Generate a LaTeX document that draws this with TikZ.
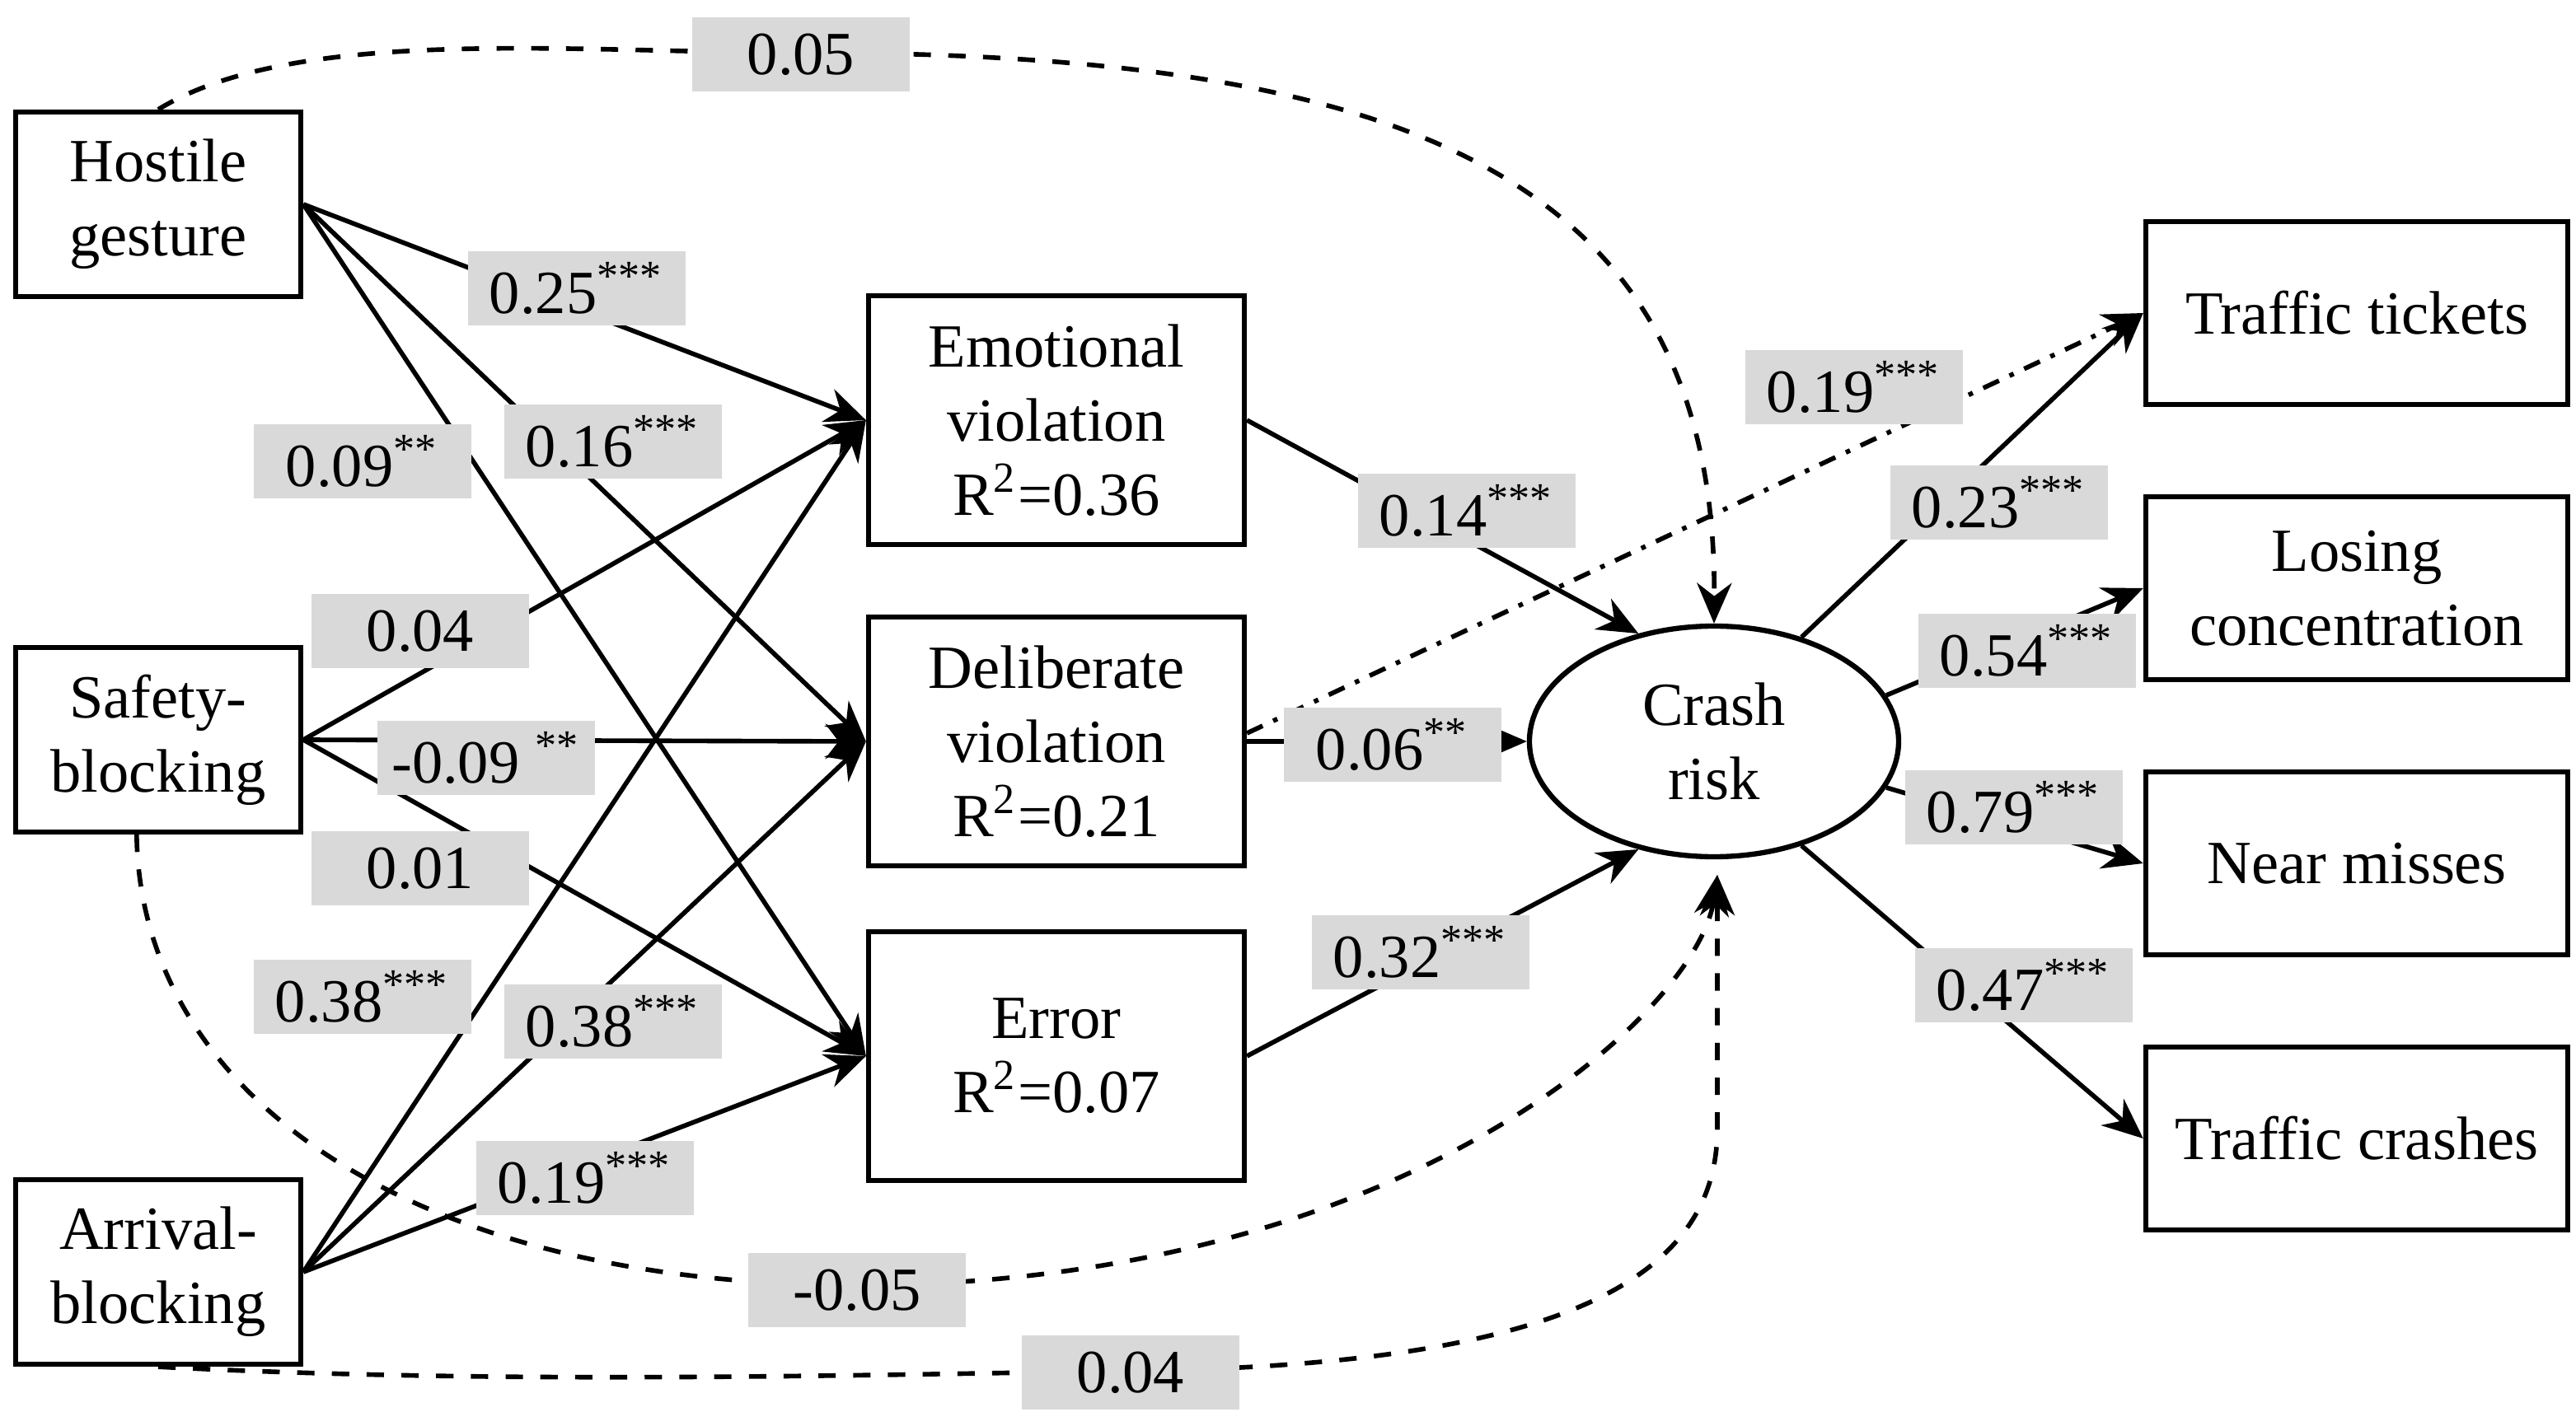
\documentclass[tikz,border=0pt]{standalone}
\usepackage{fontspec}
\setmainfont{Liberation Serif}
\usetikzlibrary{arrows.meta,shapes.geometric}
\begin{document}
\begin{tikzpicture}[>={Stealth[length=7pt,width=6pt]}, line width=0.8pt,
  font=\fontsize{10.6}{12.8}\selectfont]
    \tikzstyle{block} = [draw, rectangle, align=center, line width=0.9pt]
    \tikzstyle{lbl} = [fill=black!15, minimum width=1.32cm, minimum height=0.45cm, inner sep=0pt]
    \useasboundingbox (0,0) rectangle (15.63,8.65);

    \node [block, minimum width=1.73cm, minimum height=1.12cm] (hostile) at (0.96,7.41) {Hostile\\gesture};
    \node [block, minimum width=1.73cm, minimum height=1.12cm] (safety) at (0.96,4.16) {Safety-\\blocking};
    \node [block, minimum width=1.73cm, minimum height=1.12cm] (arrival) at (0.96,0.93) {Arrival-\\blocking};

    \node [block, minimum width=2.28cm, minimum height=1.51cm] (emo) at (6.41,6.10) {Emotional\\violation\\R\textsuperscript{2}=0.36};
    \node [block, minimum width=2.28cm, minimum height=1.51cm] (delib) at (6.41,4.15) {Deliberate\\violation\\R\textsuperscript{2}=0.21};
    \node [block, minimum width=2.28cm, minimum height=1.51cm] (error) at (6.41,2.24) {Error\\R\textsuperscript{2}=0.07};

    \node [draw, ellipse, align=center, line width=0.9pt, minimum width=2.24cm, minimum height=1.40cm] (crash) at (10.40,4.15) {Crash\\risk};
    \coordinate (crashin) at (10.42,3.34);

    \node [block, minimum width=2.56cm, minimum height=1.11cm] (tickets) at (14.30,6.75) {Traffic tickets};
    \node [block, minimum width=2.56cm, minimum height=1.11cm] (losing) at (14.30,5.08) {Losing\\concentration};
    \node [block, minimum width=2.56cm, minimum height=1.11cm] (near) at (14.30,3.41) {Near misses};
    \node [block, minimum width=2.56cm, minimum height=1.11cm] (crashes) at (14.30,1.74) {Traffic crashes};

    \foreach \s in {hostile,safety,arrival}
      \foreach \t in {emo,delib,error}
        \draw [->] (\s.east) -- (\t.west);

    \draw [->] (emo.east) -- (crash.125);
    \draw [->] (delib.east) -- (crash.west);
    \draw [->] (error.east) -- (crash.235);
    \draw [->, dash dot] (delib.east) ++(0,0.05) -- (tickets.west);
    \draw [->] (crash.50) -- (tickets.west);
    \draw [->] (crash.15) -- (losing.west);
    \draw [->] (crash.-15) -- (near.west);
    \draw [->] (crash.-50) -- (crashes.west);

    \draw [->, dashed] (hostile.north) .. controls (1.8,8.5) and (3.5,8.33) .. (4.86,8.33)
      .. controls (8.5,8.33) and (10.42,7.6) .. (crash.north);
    \draw [->, dashed] (safety.south west) ++(0.75,0) .. controls (0.85,2.0) and (2.5,0.85) .. (5.20,0.85)
      .. controls (8.5,0.85) and (10.3,2.5) .. (crashin);
    \draw [->, dashed] (arrival.south) .. controls (3,0.25) and (5,0.3) .. (6.86,0.33)
      .. controls (9.5,0.36) and (10.42,0.9) .. (10.42,1.8) -- (crashin);

    \node [lbl] (l1) at (3.50,6.90) {0.25\textsuperscript{***}};
    \node [lbl] (l2) at (3.72,5.97) {0.16\textsuperscript{***}};
    \node [lbl] (l3) at (2.20,5.85) {0.09\textsuperscript{**}};
    \node [lbl] (l4) at (2.55,4.82) {0.04};
    \node [lbl] (l5) at (2.95,4.05) {-0.09 \textsuperscript{**}};
    \node [lbl] (l6) at (2.55,3.38) {0.01};
    \node [lbl] (l7) at (2.20,2.60) {0.38\textsuperscript{***}};
    \node [lbl] (l8) at (3.72,2.45) {0.38\textsuperscript{***}};
    \node [lbl] (l9) at (3.55,1.50) {0.19\textsuperscript{***}};
    \node [lbl] (l10) at (8.90,5.55) {0.14\textsuperscript{***}};
    \node [lbl] (l11) at (8.45,4.13) {0.06\textsuperscript{**}};
    \node [lbl] (l12) at (8.62,2.87) {0.32\textsuperscript{***}};
    \node [lbl] (l13) at (11.25,6.30) {0.19\textsuperscript{***}};
    \node [lbl] (l14) at (12.13,5.60) {0.23\textsuperscript{***}};
    \node [lbl] (l15) at (12.30,4.70) {0.54\textsuperscript{***}};
    \node [lbl] (l16) at (12.22,3.75) {0.79\textsuperscript{***}};
    \node [lbl] (l17) at (12.28,2.67) {0.47\textsuperscript{***}};
    \node [lbl] (l18) at (4.86,8.32) {0.05};
    \node [lbl] (l19) at (5.20,0.82) {-0.05};
    \node [lbl] (l20) at (6.86,0.32) {0.04};
\end{tikzpicture}
\end{document}
